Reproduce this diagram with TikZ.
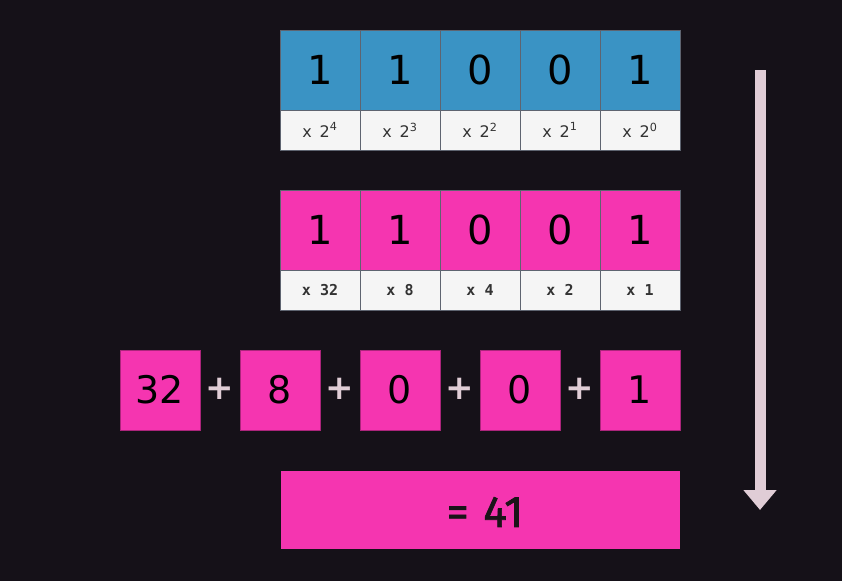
\documentclass[tikz,border=0pt]{standalone}
\usepackage{fontspec}
\setmainfont{DejaVu Sans}
\newfontfamily\labmono{DejaVu Sans Mono}
\newfontfamily\resfont{Fira Sans}[FakeBold=1.5]
\usetikzlibrary{arrows.meta}
\definecolor{bgc}{HTML}{151118}
\definecolor{bluec}{HTML}{3A93C4}
\definecolor{pinkc}{HTML}{F535B0}
\definecolor{cellw}{HTML}{F5F5F5}
\definecolor{edgec}{HTML}{5E6470}
\definecolor{pluscol}{HTML}{E0CDD6}
\definecolor{labc}{HTML}{333333}
\definecolor{darkt}{HTML}{1A1418}
\tikzset{
  digitbox/.style={draw=edgec, line width=0.8pt, minimum width=80pt, minimum height=80pt, inner sep=0pt, font=\fontsize{40}{40}\selectfont, text=black},
  bluebox/.style={digitbox, fill=bluec},
  pinkbox/.style={digitbox, fill=pinkc},
  labbox/.style={draw=edgec, line width=0.8pt, fill=cellw, minimum width=80pt, minimum height=40pt, inner sep=0pt, text=labc},
  powlab/.style={labbox, font=\fontsize{16}{16}\selectfont},
  vallab/.style={labbox, font=\labmono\bfseries\fontsize{15}{15}\selectfont},
  sumbox/.style={draw=pinkc!70!black, line width=0.6pt, fill=pinkc, minimum width=80pt, minimum height=80pt, inner sep=0pt, font=\fontsize{38}{38}\selectfont, text=black},
  plussign/.style={inner sep=0pt, font=\bfseries\fontsize{34}{34}\selectfont, text=pluscol},
  resbox/.style={fill=pinkc, minimum width=399pt, minimum height=78pt, inner sep=0pt},
  restext/.style={inner sep=0pt, font=\resfont\fontsize{44}{44}\selectfont, text=darkt},
  flowarrow/.style={draw=pluscol, line width=11pt, -{Triangle[width=32pt,length=20pt]}}
}
\begin{document}
\begin{tikzpicture}[x=1pt,y=-1pt]
\fill[bgc] (0,0) rectangle (842,581);
\useasboundingbox (0,0) rectangle (842,581);
% row 1
\node[bluebox] (b0) at (320,70) {1};
\node[bluebox] (b1) at (400,70) {1};
\node[bluebox] (b2) at (480,70) {0};
\node[bluebox] (b3) at (560,70) {0};
\node[bluebox] (b4) at (640,70) {1};
\node[powlab] (w0) at (320,130) {x\, 2\textsuperscript{4}};
\node[powlab] (w1) at (400,130) {x\, 2\textsuperscript{3}};
\node[powlab] (w2) at (480,130) {x\, 2\textsuperscript{2}};
\node[powlab] (w3) at (560,130) {x\, 2\textsuperscript{1}};
\node[powlab] (w4) at (640,130) {x\, 2\textsuperscript{0}};
% row 2
\node[pinkbox] (p0) at (320,230) {1};
\node[pinkbox] (p1) at (400,230) {1};
\node[pinkbox] (p2) at (480,230) {0};
\node[pinkbox] (p3) at (560,230) {0};
\node[pinkbox] (p4) at (640,230) {1};
\node[vallab] (v0) at (320,290) {x 32};
\node[vallab] (v1) at (400,290) {x 8};
\node[vallab] (v2) at (480,290) {x 4};
\node[vallab] (v3) at (560,290) {x 2};
\node[vallab] (v4) at (640,290) {x 1};
% row 3
\node[sumbox] (s0) at (160,390) {32};
\node[sumbox] (s1) at (280,390) {8};
\node[sumbox] (s2) at (400,390) {0};
\node[sumbox] (s3) at (520,390) {0};
\node[sumbox] (s4) at (640,390) {1};
\node[plussign] (q0) at (220,389) {+};
\node[plussign] (q1) at (340,389) {+};
\node[plussign] (q2) at (460,389) {+};
\node[plussign] (q3) at (580,389) {+};
% result
\node[resbox] (res) at (480.5,510) {};
\node[restext] (rest) at (485,512) {=\,\,41};
% arrow
\coordinate (atop) at (760,70);
\coordinate (abot) at (760,510);
\draw[flowarrow] (atop) -- (abot);
\end{tikzpicture}
\end{document}
